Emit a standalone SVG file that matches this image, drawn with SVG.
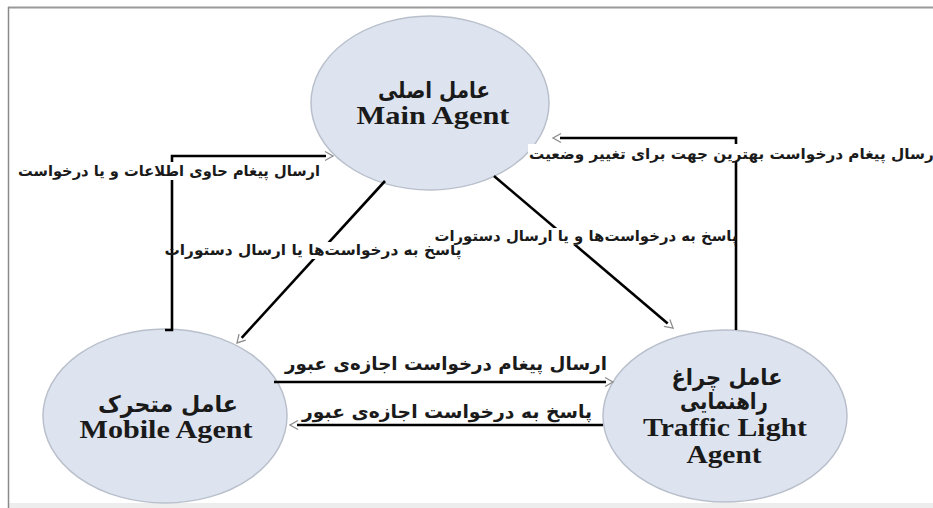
<svg xmlns="http://www.w3.org/2000/svg" width="933" height="508" viewBox="0 0 933 508">
<style>
.node ellipse{fill:#dee4ef;stroke:#b9c0cc;stroke-width:1.5}
.fa{font-family:"DejaVu Sans","Noto Sans",sans-serif;font-weight:bold;fill:#1a1a1a}
.en{font-family:"Liberation Serif","Times New Roman",serif;font-weight:bold;fill:#1a1a1a}
.lbl{font-family:"DejaVu Sans","Noto Sans",sans-serif;font-weight:bold;fill:#1a1a1a}
.ln{fill:none;stroke:#000;stroke-width:2.6}
.bg{fill:#fff}
</style>
<defs>
<marker id="arr" markerUnits="userSpaceOnUse" markerWidth="12" markerHeight="12" viewBox="0 0 12 12" refX="2" refY="6" orient="auto">
<path d="M1,1.5 L9,6 L1,10.5" fill="none" stroke="#8c8c8c" stroke-width="1.3"/>
</marker>
</defs>
<rect x="0" y="0" width="933" height="508" fill="#fff"/>
<rect x="8" y="503" width="925" height="5" fill="#ededed"/>
<line x1="8" y1="7.5" x2="933" y2="7.5" stroke="#9a9a9a" stroke-width="2"/>
<line x1="8.5" y1="7" x2="8.5" y2="508" stroke="#8a8a8a" stroke-width="1.5"/>

<g id="node-main" class="node">
<ellipse cx="430" cy="103" rx="119" ry="87"/>
<text class="fa" x="434" y="98" text-anchor="middle" font-size="23" textLength="112" lengthAdjust="spacingAndGlyphs">عامل اصلی</text>
<text class="en" x="433" y="124" text-anchor="middle" font-size="26" textLength="153" lengthAdjust="spacingAndGlyphs">Main Agent</text>
</g>
<g id="node-mobile" class="node">
<ellipse cx="165" cy="416" rx="122" ry="87"/>
<text class="fa" x="168" y="412" text-anchor="middle" font-size="23" textLength="140" lengthAdjust="spacingAndGlyphs">عامل متحرک</text>
<text class="en" x="166" y="438" text-anchor="middle" font-size="26" textLength="173" lengthAdjust="spacingAndGlyphs">Mobile Agent</text>
</g>
<g id="node-traffic" class="node">
<ellipse cx="725" cy="416" rx="122" ry="86"/>
<text class="fa" x="727" y="385" text-anchor="middle" font-size="23" textLength="111" lengthAdjust="spacingAndGlyphs">عامل چراغ</text>
<text class="fa" x="724" y="409" text-anchor="middle" font-size="23" textLength="88" lengthAdjust="spacingAndGlyphs">راهنمایی</text>
<text class="en" x="725" y="436" text-anchor="middle" font-size="26" textLength="164" lengthAdjust="spacingAndGlyphs">Traffic Light</text>
<text class="en" x="724" y="463" text-anchor="middle" font-size="26" textLength="75" lengthAdjust="spacingAndGlyphs">Agent</text>
</g>

<g id="connectors">
<path class="ln" d="M165,330 L172,330 L172,156 L326,156" marker-end="url(#arr)"/>
<path class="ln" d="M736,330 L736,138 L560,138" marker-end="url(#arr)"/>
<path class="ln" d="M385,181 L241.7,337.8" marker-end="url(#arr)"/>
<path class="ln" d="M494,176 L667.7,323.5" marker-end="url(#arr)"/>
<path class="ln" d="M274,382 L606,382" marker-end="url(#arr)"/>
<path class="ln" d="M603,425 L297,425" marker-end="url(#arr)"/>

<rect class="bg" x="18" y="162" width="302" height="18"/>
<text class="lbl" x="169" y="176" text-anchor="middle" font-size="15" textLength="302" lengthAdjust="spacingAndGlyphs">ارسال پیغام حاوی اطلاعات و یا درخواست</text>
<rect class="bg" x="528" y="144" width="405" height="18"/>
<text class="lbl" x="734" y="159" text-anchor="middle" font-size="15" textLength="410" lengthAdjust="spacingAndGlyphs">ارسال پیغام درخواست بهترین جهت برای تغییر وضعیت</text>
<rect class="bg" x="185" y="242" width="277" height="17"/>
<text class="lbl" x="313" y="255" text-anchor="middle" font-size="15" textLength="297" lengthAdjust="spacingAndGlyphs">پاسخ به درخواست‌ها  یا ارسال دستورات</text>
<rect class="bg" x="435" y="228" width="295" height="17"/>
<text class="lbl" x="586" y="241" text-anchor="middle" font-size="15" textLength="303" lengthAdjust="spacingAndGlyphs">پاسخ به درخواست‌ها و یا ارسال دستورات</text>
<text class="lbl" x="446" y="370" text-anchor="middle" font-size="18" textLength="322" lengthAdjust="spacingAndGlyphs">ارسال پیغام درخواست اجازه‌ی عبور</text>
<text class="lbl" x="447" y="418" text-anchor="middle" font-size="18" textLength="290" lengthAdjust="spacingAndGlyphs">پاسخ به درخواست اجازه‌ی عبور</text>
</g>
</svg>
